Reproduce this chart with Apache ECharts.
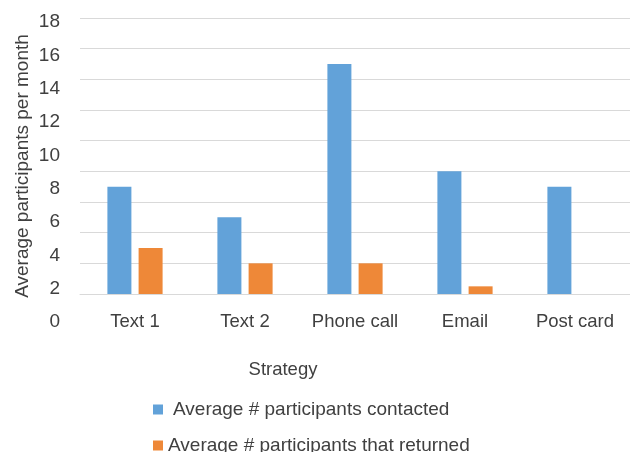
<!DOCTYPE html>
<html>
<head>
<meta charset="utf-8">
<script src="https://cdn.jsdelivr.net/npm/echarts@6/dist/echarts.min.js"></script>
<style>
  html, body { margin: 0; padding: 0; background: #fff; }
  #chart { width: 630px; height: 452px; }
</style>
</head>
<body>
<div id="chart"></div>
<script>
// Outreach strategies and monthly participant averages
const strategies = ['Text 1', 'Text 2', 'Phone call', 'Email', 'Post card'];
const contacted = [7, 5, 15, 8, 7];
const returned = [3, 2, 2, 0.5, 0];
const tickLabels = ['0', '2', '4', '6', '8', '10', '12', '14', '16', '18'];

const seriesNames = ['Average # participants contacted', 'Average # participants that returned'];
const colors = ['#62A2D9', '#EE8838'];
const textColor = '#404040';
const font = 'Liberation Sans, Arial, Helvetica, sans-serif';

const chart = echarts.init(document.getElementById('chart'), null, { renderer: 'canvas' });

chart.setOption({
  animation: false,
  backgroundColor: '#fff',
  textStyle: { fontFamily: font },
  grid: [
    // plotting area
    { left: 80, right: 0, top: 18, bottom: 158, containLabel: false },
    // tick label column
    { left: 80, right: 0, top: 22, bottom: 130, containLabel: false }
  ],
  xAxis: [
    {
      type: 'category',
      gridIndex: 0,
      data: strategies,
      axisLine: { show: true, lineStyle: { color: '#d9d9d9', width: 1 } },
      axisTick: { show: false },
      axisLabel: { interval: 0, color: textColor, fontSize: 18.5, margin: 18, fontFamily: font }
    },
    {
      type: 'category',
      gridIndex: 1,
      data: strategies,
      show: false
    }
  ],
  yAxis: [
    {
      type: 'value',
      gridIndex: 0,
      min: 0,
      max: 18,
      interval: 2,
      axisLine: { show: false },
      axisTick: { show: false },
      axisLabel: { show: false },
      splitLine: { show: true, lineStyle: { color: '#d9d9d9', width: 1 } }
    },
    {
      type: 'value',
      gridIndex: 1,
      min: 0,
      max: 18,
      interval: 2,
      axisLine: { show: false },
      axisTick: { show: false },
      splitLine: { show: false },
      axisLabel: {
        color: textColor, fontSize: 19, margin: 20, fontFamily: font,
        formatter: (v) => tickLabels[Math.round(v / 2)]
      }
    }
  ],
  graphic: [
    {
      type: 'text',
      x: 23,
      y: 166,
      rotation: Math.PI / 2,
      style: {
        text: 'Average participants per month',
        fill: textColor,
        font: '19px ' + font,
        textAlign: 'center',
        textVerticalAlign: 'middle'
      }
    },
    {
      type: 'text',
      x: 283,
      y: 370,
      style: {
        text: 'Strategy',
        fill: textColor,
        font: '18.5px ' + font,
        textAlign: 'center',
        textVerticalAlign: 'middle'
      }
    }
  ],
  legend: [
    {
      data: [seriesNames[0]],
      left: 148,
      top: 395,
      icon: 'rect',
      itemWidth: 10,
      itemHeight: 10,
      textStyle: { color: textColor, fontSize: 19, fontFamily: font, padding: [0, 0, 0, 5] }
    },
    {
      data: [seriesNames[1]],
      left: 148,
      top: 431,
      icon: 'rect',
      itemWidth: 10,
      itemHeight: 10,
      textStyle: { color: textColor, fontSize: 19, fontFamily: font }
    }
  ],
  series: [
    {
      name: seriesNames[0],
      type: 'bar',
      xAxisIndex: 0,
      yAxisIndex: 0,
      data: contacted,
      barWidth: 24,
      barGap: '30%',
      itemStyle: { color: colors[0] }
    },
    {
      name: seriesNames[1],
      type: 'bar',
      xAxisIndex: 0,
      yAxisIndex: 0,
      data: returned,
      barWidth: 24,
      barGap: '30%',
      itemStyle: { color: colors[1] }
    }
  ]
});
</script>
</body>
</html>
